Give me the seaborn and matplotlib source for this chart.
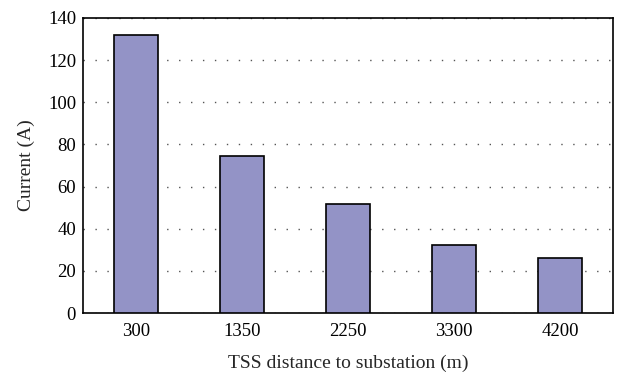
import matplotlib
matplotlib.use("Agg")
import matplotlib.pyplot as plt
import seaborn as sns
import pandas as pd

categories = ["300", "1350", "2250", "3300", "4200"]
current = [132, 74.5, 51.5, 32.5, 26]
yticks = [0, 20, 40, 60, 80, 100, 120, 140]

sns.set_theme(style="white")
plt.rcParams['font.family'] = ['Liberation Serif', 'DejaVu Serif']

df = pd.DataFrame({"dist": categories, "current": current})

fig = plt.figure(figsize=(6.21, 3.82), dpi=100)
ax = fig.add_axes([83/621, 1-313/382, 530/621, 295/382])
sns.barplot(data=df, x="dist", y="current", order=categories, color="#9393C6",
            saturation=1, width=0.42, edgecolor="black", linewidth=1.2, ax=ax, zorder=3)
ax.set_ylim(0, 140)
ax.set_xlim(-0.5, 4.5)
ax.set_yticks(yticks)
ax.yaxis.grid(True, linestyle=(0, (1.0, 7.6)), color="#555555", linewidth=1.0, zorder=0)
ax.xaxis.grid(False)
for s in ax.spines.values():
    s.set_visible(True)
    s.set_color("black")
    s.set_linewidth(1.2)
ax.tick_params(axis="both", labelsize=13.5, colors="black", length=0, pad=7)
ax.tick_params(axis="y", pad=5)
ax.set_xlabel("TSS distance to substation (m)", fontsize=14, labelpad=11)
ax.set_ylabel("Current (A)", fontsize=14, labelpad=9)
fig.savefig("out.png", dpi=100)
